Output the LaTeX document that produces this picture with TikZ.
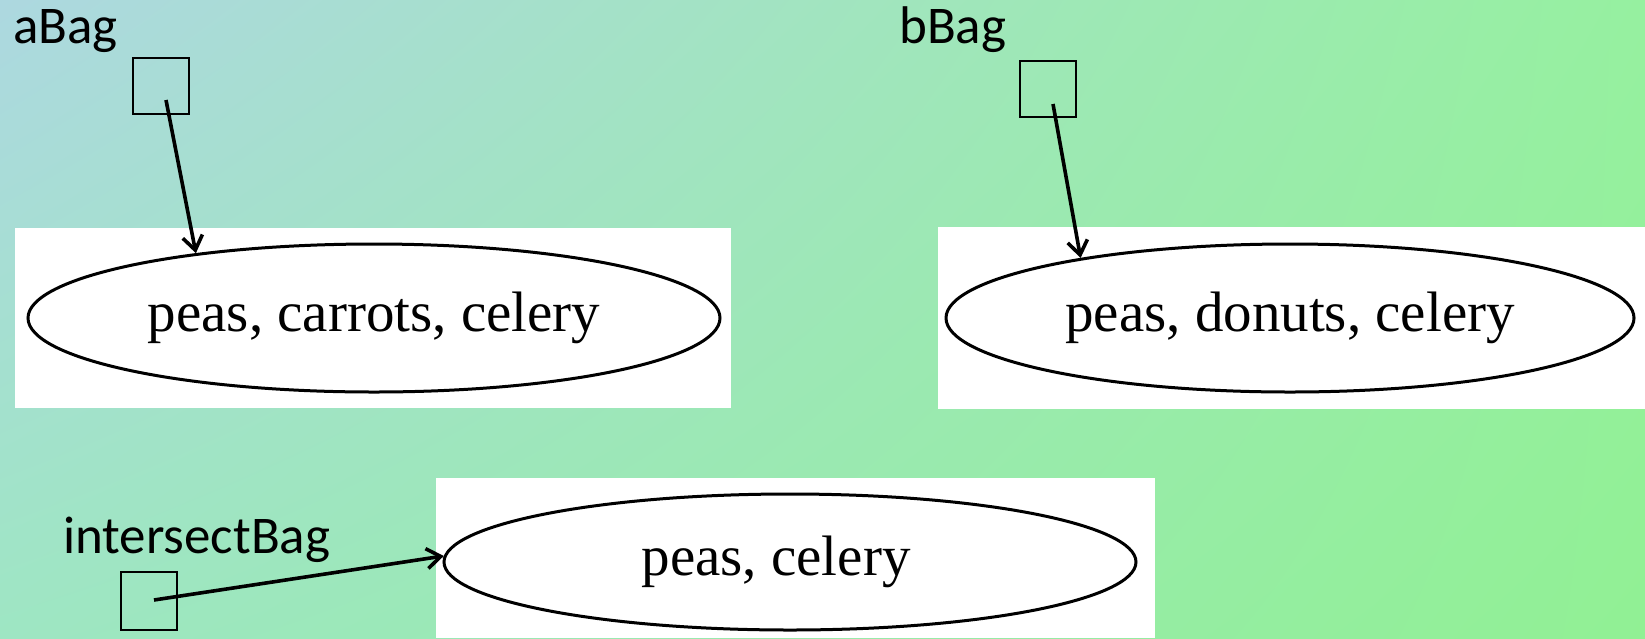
\documentclass[tikz,border=0pt]{standalone}
\usepackage{fontspec}
\setmainfont{Liberation Serif}
\newfontfamily\labelfont{Carlito}
\usetikzlibrary{arrows.meta,shapes.geometric,shadings}
\definecolor{bgUL}{RGB}{173,216,224}
\definecolor{bgUR}{RGB}{150,240,160}
\definecolor{bgLL}{RGB}{158,230,195}
\definecolor{bgLR}{RGB}{145,240,148}
\begin{document}
\begin{tikzpicture}[x=1pt,y=-1pt,
  bagbox/.style={draw=black,line width=2.2pt,minimum width=56pt,minimum height=56pt,inner sep=0pt},
  bagname/.style={font=\labelfont\fontsize{53}{60}\selectfont,inner sep=0pt,anchor=base west},
  setell/.style={ellipse,draw=black,line width=3pt,fill=white,inner sep=0pt,font=\fontsize{57}{64}\selectfont},
  ptr/.style={line width=3.6pt,-{Straight Barb[length=14pt,width=20pt]}}
]
\useasboundingbox (0,0) rectangle (1645,638);
\shade[upper left=bgUL, upper right=bgUR, lower left=bgLL, lower right=bgLR] (0,0) rectangle (1645,638);
% white panels
\fill[white] (15,228) rectangle (731,408);
\fill[white] (938,227) rectangle (1645,409);
\fill[white] (436,478) rectangle (1155,638);
% set ellipses
\node[setell, minimum width=692pt, minimum height=148pt] (ellA) at (374,318) {peas, carrots, celery};
\node[setell, minimum width=688pt, minimum height=148pt] (ellB) at (1290,318) {peas, donuts, celery};
\node[setell, minimum width=692pt, minimum height=136pt] (ellC) at (790,562) {peas, celery\hspace*{28pt}};
% variable boxes
\node[bagbox] (sqA) at (161,86) {};
\node[bagbox] (sqB) at (1048,89) {};
\node[bagbox, minimum height=58pt] (sqC) at (149,601) {};
% labels
\node[bagname] (lblA) at (13,43) {aBag};
\node[bagname] (lblB) at (899,43) {bBag};
\node[bagname] (lblC) at (63,553) {intersectBag};
% pointers
\coordinate (pA) at (166,100);
\coordinate (pB) at (1053,104);
\coordinate (pC) at (154,600);
\draw[ptr] (pA) -- (ellA.160);
\draw[ptr] (pB) -- (ellB.164);
\draw[ptr] (pC) -- (ellC.179);
\end{tikzpicture}
\end{document}
